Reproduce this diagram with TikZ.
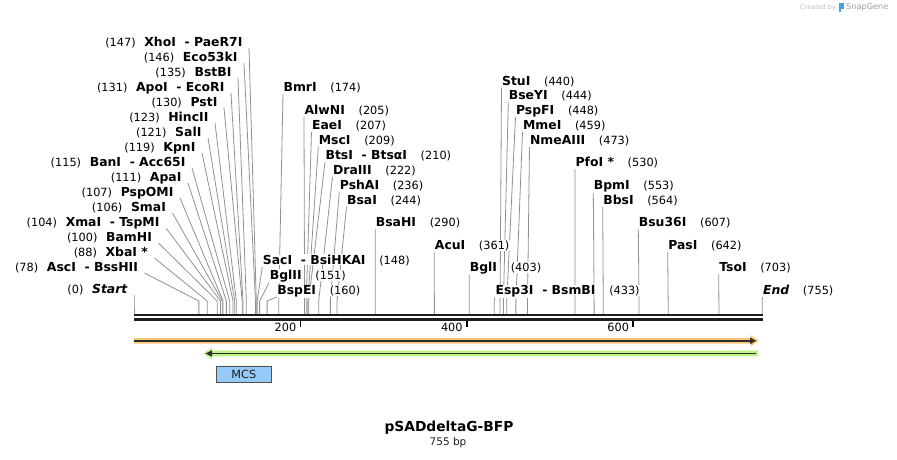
\documentclass[tikz,border=0pt]{standalone}
\usepackage{fontspec}
\setmainfont{DejaVu Sans}
\usetikzlibrary{backgrounds}
\definecolor{leadgray}{RGB}{145,145,145}
\definecolor{barblack}{RGB}{30,30,30}
\definecolor{darkline}{RGB}{45,45,45}
\definecolor{orfill}{RGB}{250,197,115}
\definecolor{grfill}{RGB}{188,242,128}
\definecolor{mcsblue}{RGB}{150,202,248}
\definecolor{mcsedge}{RGB}{80,80,80}
\definecolor{wmgray}{RGB}{190,190,190}
\definecolor{wmgray2}{RGB}{160,160,160}
\definecolor{logoblue}{RGB}{70,160,230}
\setlength{\fboxsep}{0.6pt}
\newcommand\enzNum[1]{\colorbox{white}{\fontsize{11.3}{13}\selectfont #1}}
\newcommand\enzName[1]{\colorbox{white}{\fontsize{12.4}{14}\selectfont\bfseries #1}}
\tikzset{
  enzlab/.style={inner sep=0pt, outer sep=0pt, text=black},
  lead/.style={draw=leadgray, line width=0.8pt},
  barline/.style={draw=barblack, line width=2.7pt},
  scaletick/.style={draw=black, line width=1.8pt},
  scalelab/.style={inner sep=0pt, anchor=east, font=\fontsize{11.3}{13}\selectfont},
}
% left-side label: name, right x, centre y, bp, text
\newcommand\Lenz[5]{%
  \node[enzlab, anchor=base east] (#1) at (#2,#3+4.4) {#5};
  \coordinate (#1s) at (#2+6,#3+6);
  \coordinate (#1c) at ({134+0.832*#4},301);
  \coordinate (#1b) at ({134+0.832*#4},314);
  \begin{pgfonlayer}{background}\draw[lead] (#1s) -- (#1c) -- (#1b);\end{pgfonlayer}%
}
% right-side label: name, left x, centre y, bp, text
\newcommand\Renz[5]{%
  \node[enzlab, anchor=base west] (#1) at (#2,#3+4.4) {#5};
  \coordinate (#1s) at (#2,#3+7);
  \coordinate (#1c) at ({134+0.832*#4},301);
  \coordinate (#1b) at ({134+0.832*#4},314);
  \begin{pgfonlayer}{background}\draw[lead] (#1s) -- (#1c) -- (#1b);\end{pgfonlayer}%
}
\newcommand\gapA{\hspace{7.5pt}}
\newcommand\gapB{\hspace{12.5pt}}
\begin{document}
\begin{tikzpicture}[x=1pt,y=-1pt]
\useasboundingbox (0,0) rectangle (897,459);
\begin{pgfonlayer}{background}\fill[white] (0,0) rectangle (897,459);\end{pgfonlayer}

% ---- left group ----
\Lenz{xho}{243}{42}{147}{\enzNum{(147)}\gapA\enzName{XhoI}\gapA\enzName{- PaeR7I}}
\Lenz{ecofs}{238}{57}{146}{\enzNum{(146)}\gapA\enzName{Eco53kI}}
\Lenz{bstb}{232}{72}{135}{\enzNum{(135)}\gapA\enzName{BstBI}}
\Lenz{apo}{225}{87}{131}{\enzNum{(131)}\gapA\enzName{ApoI}\gapA\enzName{- EcoRI}}
\Lenz{pst}{218}{102}{130}{\enzNum{(130)}\gapA\enzName{PstI}}
\Lenz{hinc}{209}{117}{123}{\enzNum{(123)}\gapA\enzName{HincII}}
\Lenz{sal}{202}{132}{121}{\enzNum{(121)}\gapA\enzName{SalI}}
\Lenz{kpn}{196}{147}{119}{\enzNum{(119)}\gapA\enzName{KpnI}}
\Lenz{ban}{186}{162}{115}{\enzNum{(115)}\gapA\enzName{BanI}\gapA\enzName{- Acc65I}}
\Lenz{apa}{182}{177}{111}{\enzNum{(111)}\gapA\enzName{ApaI}}
\Lenz{pspom}{174}{192}{107}{\enzNum{(107)}\gapA\enzName{PspOMI}}
\Lenz{sma}{166.5}{207}{106}{\enzNum{(106)}\gapA\enzName{SmaI}}
\Lenz{xma}{160}{222}{104}{\enzNum{(104)}\gapA\enzName{XmaI}\gapA\enzName{- TspMI}}
\Lenz{bam}{152.5}{237}{100}{\enzNum{(100)}\gapA\enzName{BamHI}}
\Lenz{xba}{148.5}{252}{88}{\enzNum{(88)}\gapA\enzName{XbaI *}}
\Lenz{asc}{138.5}{267}{78}{\enzNum{(78)}\gapA\enzName{AscI}\gapA\enzName{- BssHII}}
\Lenz{startl}{128}{289}{0}{\enzNum{(0)}\gapA\enzName{\itshape Start}}

% ---- middle group ----
\Renz{bmr}{283}{87}{174}{\enzName{BmrI}\gapB\enzNum{(174)}}
\Renz{alwn}{304}{110}{205}{\enzName{AlwNI}\gapB\enzNum{(205)}}
\Renz{eae}{311.5}{125}{207}{\enzName{EaeI}\gapB\enzNum{(207)}}
\Renz{msc}{318.3}{140}{209}{\enzName{MscI}\gapB\enzNum{(209)}}
\Renz{bts}{325}{155}{210}{\enzName{BtsI}\gapA\enzName{- BtsαI}\gapB\enzNum{(210)}}
\Renz{dra}{332.5}{170}{222}{\enzName{DraIII}\gapB\enzNum{(222)}}
\Renz{psha}{339.3}{185}{236}{\enzName{PshAI}\gapB\enzNum{(236)}}
\Renz{bsa}{346.5}{200}{244}{\enzName{BsaI}\gapB\enzNum{(244)}}
\Renz{bsah}{375.3}{222}{290}{\enzName{BsaHI}\gapB\enzNum{(290)}}
\Renz{acu}{434.3}{245}{361}{\enzName{AcuI}\gapB\enzNum{(361)}}
\Renz{bgl}{469.3}{267}{403}{\enzName{BglI}\gapB\enzNum{(403)}}
\Renz{sac}{262.3}{260}{148}{\enzName{SacI}\gapA\enzName{- BsiHKAI}\gapB\enzNum{(148)}}
\Renz{bgltwo}{269.3}{275}{151}{\enzName{BglII}\gapB\enzNum{(151)}}
\Renz{bspe}{276.7}{290}{160}{\enzName{BspEI}\gapB\enzNum{(160)}}
\Renz{esp}{495}{290}{433}{\enzName{Esp3I}\gapA\enzName{- BsmBI}\gapB\enzNum{(433)}}

% ---- right group ----
\Renz{stu}{501.5}{80.7}{440}{\enzName{StuI}\gapB\enzNum{(440)}}
\Renz{bsey}{508.3}{95}{444}{\enzName{BseYI}\gapB\enzNum{(444)}}
\Renz{pspf}{515.5}{110}{448}{\enzName{PspFI}\gapB\enzNum{(448)}}
\Renz{mme}{522.5}{125}{459}{\enzName{MmeI}\gapB\enzNum{(459)}}
\Renz{nme}{529.5}{140}{473}{\enzName{NmeAIII}\gapB\enzNum{(473)}}
\Renz{pfo}{575}{162}{530}{\enzName{PfoI *}\gapB\enzNum{(530)}}
\Renz{bpm}{593.3}{185}{553}{\enzName{BpmI}\gapB\enzNum{(553)}}
\Renz{bbs}{602.7}{200}{564}{\enzName{BbsI}\gapB\enzNum{(564)}}
\Renz{bsu}{638.3}{222}{607}{\enzName{Bsu36I}\gapB\enzNum{(607)}}
\Renz{pas}{667.7}{245}{642}{\enzName{PasI}\gapB\enzNum{(642)}}
\Renz{tso}{718.7}{267}{703}{\enzName{TsoI}\gapB\enzNum{(703)}}
\Renz{endl}{762.5}{290}{755}{\enzName{\itshape End}\gapB\enzNum{(755)}}

% ---- backbone ----
\coordinate (barL) at (134,315);
\coordinate (barR) at (763,315);
\draw[barline] (barL) -- (barR);
\draw[barline] ([yshift=-4.6pt]barL) -- ([yshift=-4.6pt]barR);

% scale ticks
\foreach \v/\n in {200/ta,400/tb,600/tc}{
  \coordinate (\n) at ({134+0.832*\v},320.5);
  \draw[scaletick] (\n) -- ++(0,6.5);
  \node[scalelab] (\n l) at ([xshift=-4pt,yshift=-6.5pt]\n) {\v};
}

% ---- orange feature (forward) ----
\fill[orfill] (134,338) -- (750.5,338) -- (750.5,335) -- (758.5,340.8) -- (750.5,346.6) -- (750.5,343.6) -- (134,343.6) -- cycle;
\draw[darkline, line width=1.8pt] (134,340.8) -- (751,340.8);
\fill[darkline] (750,337.6) -- (756.3,340.8) -- (750,344) -- cycle;

% ---- green feature (reverse) ----
\fill[grfill] (758,350.7) -- (211.5,350.7) -- (211.5,347.7) -- (203.5,353.5) -- (211.5,359.3) -- (211.5,356.3) -- (758,356.3) -- cycle;
\draw[darkline, line width=1.8pt] (756,353.5) -- (211,353.5);
\fill[darkline] (212,350.3) -- (205.7,353.5) -- (212,356.7) -- cycle;

% ---- MCS ----
\node[draw=mcsedge, fill=mcsblue, line width=0.8pt, minimum width=55.5pt, minimum height=16.3pt, inner sep=0pt, text={rgb,255:red,30;green,30;blue,30}, font=\fontsize{11.3}{13}\selectfont] (mcs) at (243.9,374.2) {MCS};

% ---- title ----
\node[inner sep=0pt, font=\fontsize{13.8}{16}\selectfont\bfseries] (title) at (449,428) {pSADdeltaG-BFP};
\node[inner sep=0pt, font=\fontsize{10.5}{12}\selectfont, text={rgb,255:red,30;green,30;blue,30}] (len) at (448,443) {755 bp};

% ---- watermark ----
\node[anchor=west, inner sep=0pt, text=wmgray, font=\fontsize{6.5}{8}\selectfont] (crby) at (800,7.5) {Created by};
\fill[logoblue] (839,3) rectangle (843.5,8.5);
\fill[logoblue] (839,3) rectangle (841,12);
\node[anchor=west, inner sep=0pt, text=wmgray2, font=\fontsize{8.2}{10}\selectfont] (snap) at (846,7.5) {SnapGene};
\end{tikzpicture}
\end{document}
